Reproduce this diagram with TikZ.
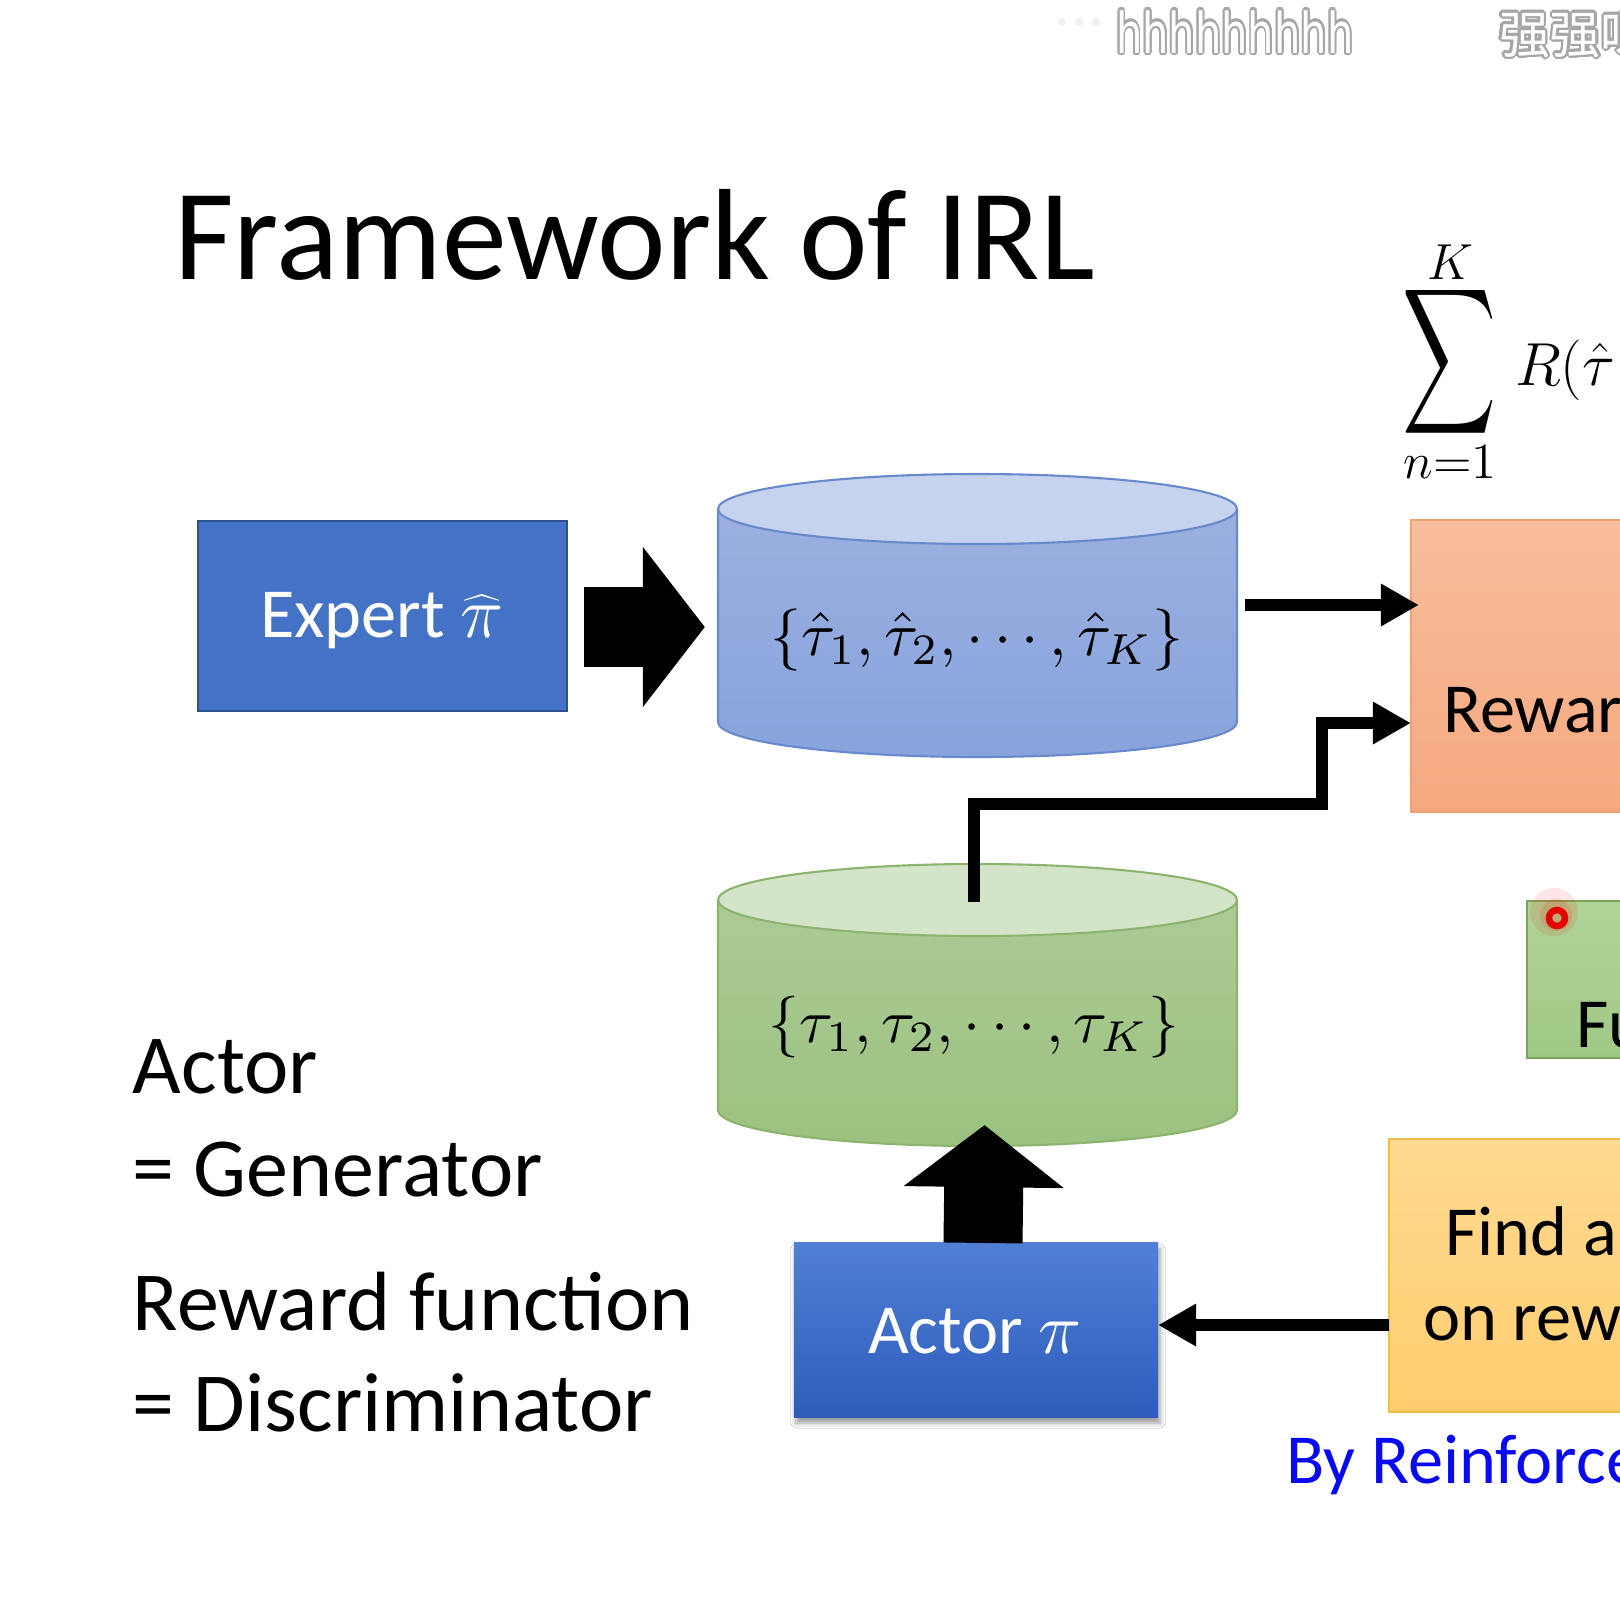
\documentclass[tikz,border=0pt]{standalone}
\usepackage{fontspec}
\setmainfont{Carlito}
\newfontfamily\cjkfont{Noto Sans CJK SC}
\newfontfamily\wmfont{DejaVu Sans}
\usepackage{graphicx}
\usepackage[copies]{contour}
\contourlength{0.7pt}
\usetikzlibrary{arrows.meta,shadows.blur}

\definecolor{expertFill}{RGB}{68,114,196}
\definecolor{expertEdge}{RGB}{47,82,143}
\definecolor{actorTop}{RGB}{80,128,212}
\definecolor{actorBot}{RGB}{45,92,188}
\definecolor{cylBlueTop}{RGB}{155,176,224}
\definecolor{cylBlueBot}{RGB}{136,163,220}
\definecolor{cylBlueEnd}{RGB}{198,211,238}
\definecolor{cylBlueEdge}{RGB}{105,137,205}
\definecolor{cylGreenTop}{RGB}{172,203,150}
\definecolor{cylGreenBot}{RGB}{155,194,128}
\definecolor{cylGreenEnd}{RGB}{212,228,200}
\definecolor{cylGreenEdge}{RGB}{140,180,110}
\definecolor{rewTop}{RGB}{249,190,155}
\definecolor{rewBot}{RGB}{245,168,128}
\definecolor{rewEdge}{RGB}{238,160,110}
\definecolor{updTop}{RGB}{176,212,152}
\definecolor{updBot}{RGB}{160,200,134}
\definecolor{updEdge}{RGB}{120,165,90}
\definecolor{rlTop}{RGB}{255,218,145}
\definecolor{rlBot}{RGB}{255,205,110}
\definecolor{rlEdge}{RGB}{243,186,80}
\definecolor{linkBlue}{RGB}{10,10,240}

\tikzset{
  flat/.style={rectangle, inner sep=0pt, outer sep=0pt},
  txt/.style={inner sep=0pt, outer sep=0pt, anchor=base west},
  blockarrow/.style={line width=0.79cm, -{Triangle[length=0.62cm,width=1.57cm]}},
  link/.style={line width=0.12cm, -{Triangle[length=0.38cm,width=0.40cm]}},
  boxfont/.style={font=\fontsize{20}{24}\selectfont},
  sidefont/.style={font=\fontsize{23.9}{28}\selectfont},
}

\begin{document}
\begin{tikzpicture}[x=0.01cm,y=-0.01cm]
\useasboundingbox (0,0) rectangle (1620,1620);
\clip (0,0) rectangle (1620,1620);
\fill[white] (0,0) rectangle (1620,1620);

% channel watermark
\foreach \dx in {1062,1079,1096} \fill[gray!12] (\dx,22) circle [radius=4];
\node[txt] (wmA) at (1116,53) {\wmfont\fontsize{16}{16}\selectfont\scalebox{0.74}[1]{\contour{gray!70}{\textcolor{white}{hhhhhhhhh}}}};
\node[txt] (wmB) at (1499,53) {\cjkfont\fontsize{14.5}{15}\selectfont\contour{gray!70}{\textcolor{white}{强强呀}}};

% title
\node[txt] (title) at (174,279) {\fontsize{36.9}{40}\selectfont Framework of IRL};

% sum over expert trajectories
\node[inner sep=0pt] (sigma) at (1450,362) {\resizebox{0.94cm}{1.07cm}{$\displaystyle\sum$}};
\node[inner sep=0pt] (sumtop) at (1450,262) {\fontsize{15}{16}\selectfont$K$};
\node[inner sep=0pt] (sumbot) at (1450,462) {\fontsize{15.5}{16}\selectfont$n{=}1$};
\node[txt] (rterm) at (1515,385) {\fontsize{16.5}{18}\selectfont$R\bigl(\hat{\tau}$};

% expert
\node[flat, fill=expertFill, draw=expertEdge, line width=0.5pt,
      minimum width=3.69cm, minimum height=1.90cm] (expert) at (382.5,616) {};
\node[boxfont, text=white, inner sep=0pt] (expertlbl) at (382,621) {Expert $\widehat{\pi}$};

% expert trajectories (blue cylinder)
\path[top color=cylBlueTop, bottom color=cylBlueBot]
  (718,509) -- (718,722) arc[start angle=180,end angle=0,x radius=259.5,y radius=35] -- (1237,509) -- cycle;
\draw[cylBlueEdge, line width=0.6pt]
  (718,509) -- (718,722) arc[start angle=180,end angle=0,x radius=259.5,y radius=35] -- (1237,509);
\draw[cylBlueEdge, fill=cylBlueEnd, line width=0.6pt] (977.5,509) ellipse [x radius=259.5, y radius=35];
\node[flat, minimum width=5.19cm, minimum height=2.83cm] (db1) at (977.5,615.5) {};
\node[inner sep=0pt] (db1lbl) at (977,640) {\resizebox{4.12cm}{!}{$\{\hat{\tau}_1,\hat{\tau}_2,\cdots,\hat{\tau}_K\}$}};

% actor trajectories (green cylinder)
\path[top color=cylGreenTop, bottom color=cylGreenBot]
  (718,900) -- (718,1110) arc[start angle=180,end angle=0,x radius=259.5,y radius=36] -- (1237,900) -- cycle;
\draw[cylGreenEdge, line width=0.6pt]
  (718,900) -- (718,1110) arc[start angle=180,end angle=0,x radius=259.5,y radius=36] -- (1237,900);
\draw[cylGreenEdge, fill=cylGreenEnd, line width=0.6pt] (977.5,900) ellipse [x radius=259.5, y radius=36];
\node[flat, minimum width=5.19cm, minimum height=2.82cm] (db2) at (977.5,1005) {};
\node[inner sep=0pt] (db2lbl) at (974,1027) {\resizebox{4.10cm}{!}{$\{\tau_1,\tau_2,\cdots,\tau_K\}$}};

% actor
\node[flat, top color=actorTop, bottom color=actorBot,
      blur shadow={shadow xshift=0.02cm, shadow yshift=-0.06cm, shadow blur radius=0.05cm, shadow opacity=40},
      minimum width=3.64cm, minimum height=1.74cm] (actor) at (976,1330) {};
\node[boxfont, text=white, anchor=base, inner sep=0pt] (actorlbl) at (975,1353) {Actor $\pi$};

% reward function
\node[flat, top color=rewTop, bottom color=rewBot, draw=rewEdge, line width=0.7pt,
      minimum width=2.89cm, minimum height=2.92cm] (reward) at (1555.5,666) {};
\node[txt, boxfont] (rewardlbl) at (1443,732) {Reward};

% reward update
\node[flat, top color=updTop, bottom color=updBot, draw=updEdge, line width=0.7pt,
      minimum width=1.73cm, minimum height=1.57cm] (update) at (1613.5,979.5) {};
\node[txt, boxfont] (updatelbl) at (1576,1047) {Fu};

% reinforcement learning step
\node[flat, top color=rlTop, bottom color=rlBot, draw=rlEdge, line width=0.7pt,
      minimum width=3.11cm, minimum height=2.73cm] (rl) at (1544.5,1275.5) {};
\node[txt, boxfont] (rlA) at (1445,1255) {Find a};
\node[txt, boxfont] (rlB) at (1423,1340) {on rew};
\node[txt, boxfont, text=linkBlue] (rlnote) at (1286,1483) {By Reinforce};

% side notes
\node[txt, sidefont] (n1) at (133,1093) {Actor};
\node[txt, sidefont] (n2) at (133,1196) {= Generator};
\node[txt, sidefont] (n3) at (133,1330) {Reward function};
\node[txt, sidefont] (n4) at (133,1431) {= Discriminator};

% connectors
\draw[blockarrow] ([xshift=0.17cm,yshift=-0.11cm]expert.east) -- ([xshift=-0.13cm,yshift=-0.11cm]expert.east -| db1.west);
\draw[blockarrow] ([xshift=0.07cm]actor.north) -- ([xshift=0.07cm,yshift=0.21cm]db2.south);
\draw[link] ([xshift=0.08cm,yshift=0.105cm]db1.east) -- ([xshift=0.08cm,yshift=0.105cm]db1.east -| reward.west);
\coordinate (bend) at (1322,804);
\draw[link] ([xshift=-0.035cm,yshift=-0.38cm]db2.north) |- (bend) |- ([yshift=-0.57cm]reward.west);
\draw[link] ([yshift=-0.495cm]rl.west) -- ([yshift=-0.495cm]rl.west -| actor.east);

% laser pointer mark
\fill[red, opacity=0.10] (1554,912) circle [radius=24];
\fill[red, opacity=0.12] (1556,915) circle [radius=16];
\draw[red!90!black, line width=0.065cm] (1557,918) circle [radius=8];
\end{tikzpicture}
\end{document}
